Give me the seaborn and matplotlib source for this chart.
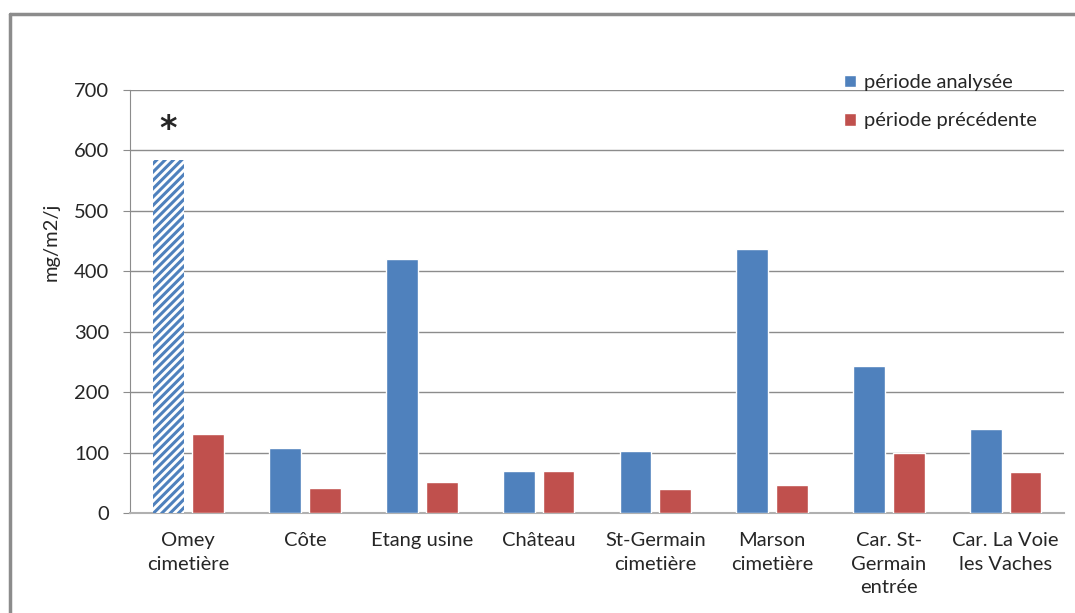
import numpy as np
import pandas as pd
import matplotlib.pyplot as plt
import seaborn as sns
from matplotlib.lines import Line2D

sites = ["Omey\ncimetière", "Côte", "Etang usine", "Château",
         "St-Germain\ncimetière", "Marson\ncimetière",
         "Car. St-\nGermain\nentrée", "Car. La Voie\nles Vaches"]
periode_analysee = [584, 108, 420, 70, 103, 437, 243, 139]
periode_precedente = [131, 41, 51, 70, 40, 46, 99, 68]
series = ["période analysée", "période précédente"]
colors = ["#4F81BD", "#C0504D"]

df = pd.DataFrame({
    "site": sites * 2,
    "valeur": periode_analysee + periode_precedente,
    "periode": [series[0]] * len(sites) + [series[1]] * len(sites),
})

sns.set_style("white")
plt.rcParams["font.family"] = ["Lato", "DejaVu Sans"]
plt.rcParams["hatch.linewidth"] = 2.2
fs = 14.5

fig = plt.figure(figsize=(10.75, 6.13), dpi=100)
ax = fig.add_axes([130 / 1075, 1 - 513 / 613, 934 / 1075, 423 / 613])

sns.barplot(data=df, x="site", y="valeur", hue="periode", palette=colors,
            width=0.68, gap=0.2, saturation=1, ax=ax, zorder=3)

# first bar (Omey, période analysée) drawn hatched
p = ax.patches[0]
p.set_facecolor("white")
p.set_edgecolor(colors[0])
p.set_hatch("////")
p.set_linewidth(0)
cx = p.get_x() + p.get_width() / 2
ax.text(cx, 635, "*", ha="center", va="center", fontsize=24,
        fontweight="bold", family="DejaVu Sans")

ax.set_ylim(0, 700)
ax.set_xlim(-0.5, len(sites) - 0.5)
ax.set_yticks(range(0, 701, 100))
ax.set_xticks(range(len(sites)))
ax.set_xticklabels(sites, linespacing=1.45)
ax.yaxis.grid(True, color="#8C8C8C", lw=1, zorder=0)
ax.set_axisbelow(True)
for s in ["top", "right"]:
    ax.spines[s].set_visible(False)
ax.spines["left"].set_color("#8C8C8C")
ax.spines["bottom"].set_color("#B0B0B0")
ax.spines["bottom"].set_linewidth(1.5)
ax.tick_params(axis="y", length=5, color="#8C8C8C", labelsize=fs, pad=10,
               left=True)
ax.tick_params(axis="x", length=0, labelsize=fs, pad=14)

ax.set_xlabel("")
ax.set_ylabel("mg/m2/j", fontsize=fs)
ax.yaxis.set_label_coords(-0.075, 0.64)

handles, labels = ax.get_legend_handles_labels()
ax.legend(handles, labels, frameon=False, fontsize=fs, loc="upper left",
          bbox_to_anchor=(826 / 1075, 1 - 56 / 613), bbox_transform=fig.transFigure,
          handlelength=0.6, handleheight=0.6, handletextpad=0.4, labelspacing=1.05)

# outer chart border
fig.add_artist(Line2D([10 / 1075, 10 / 1075], [0, 1 - 14 / 613],
                      transform=fig.transFigure, color="#8C8C8C", lw=2.5))
fig.add_artist(Line2D([10 / 1075, 1], [1 - 14 / 613, 1 - 14 / 613],
                      transform=fig.transFigure, color="#8C8C8C", lw=2.5))

fig.savefig("out.png", dpi=100)
